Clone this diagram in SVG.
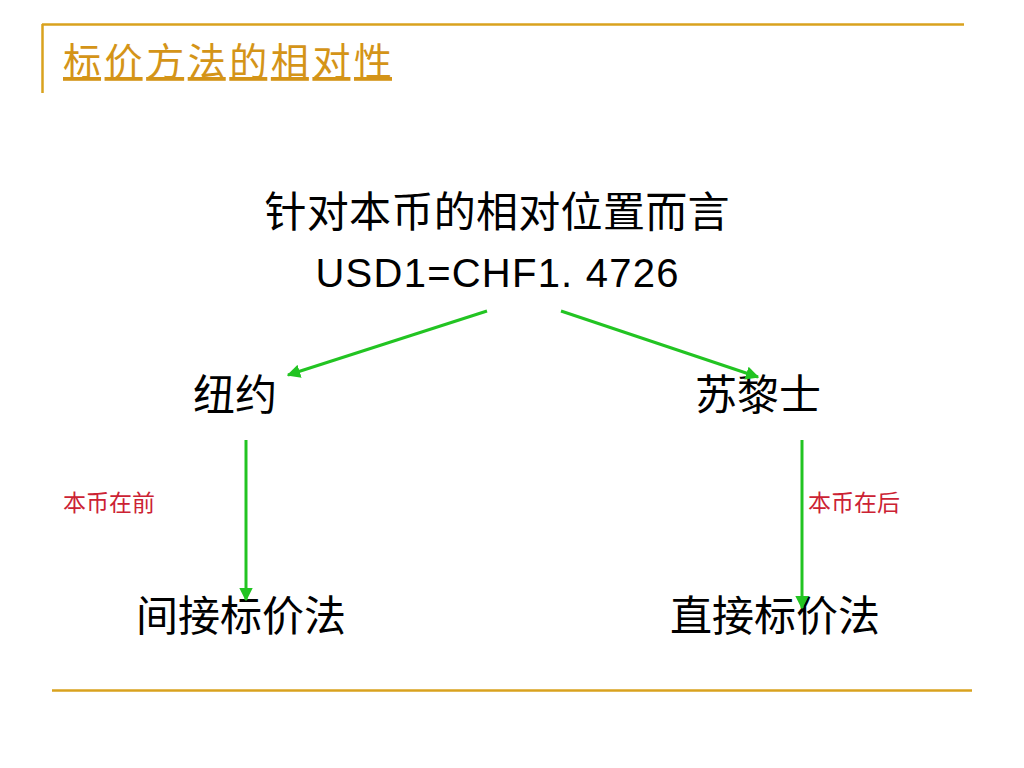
<svg xmlns="http://www.w3.org/2000/svg" width="1024" height="768" viewBox="0 0 1024 768">
<style>
.gold{stroke:#D9A21E;stroke-width:2.5;fill:none}
.title{font-family:"Noto Sans CJK SC","Liberation Sans",sans-serif;font-size:38px;fill:#D49418;text-decoration:underline}
.cjk{font-family:"Noto Sans CJK SC",sans-serif;font-size:42px;fill:#000}
.num{font-family:"Liberation Sans",Arial,sans-serif;font-size:40px;fill:#000}
.note{font-family:"Noto Sans CJK SC",sans-serif;font-size:23px;fill:#CC2233}
.arr{stroke:#22C422;stroke-width:3;fill:none;marker-end:url(#ah)}
</style>
<defs>
<marker id="ah" viewBox="0 0 10 10" refX="9" refY="5" markerWidth="4.5" markerHeight="4.5" orient="auto" markerUnits="strokeWidth">
<path d="M0,0 L10,5 L0,10 z" fill="#22C422"/>
</marker>
</defs>
<rect width="1024" height="768" fill="#fff"/>
<g id="frame">
<line class="gold" x1="42" y1="24.5" x2="964" y2="24.5"/>
<line class="gold" x1="42.5" y1="24" x2="42.5" y2="93"/>
<line class="gold" x1="52" y1="690.5" x2="972" y2="690.5"/>
</g>
<g id="title"><text class="title" x="63" y="75" textLength="329">标价方法的相对性</text></g>
<g id="top">
<text class="cjk" x="497" y="227" text-anchor="middle" textLength="465">针对本币的相对位置而言</text>
<text class="num" x="497" y="287" text-anchor="middle" textLength="363">USD1=CHF1. 4726</text>
</g>
<g id="newyork"><text class="cjk" x="235" y="410" text-anchor="middle">纽约</text></g>
<g id="zurich"><text class="cjk" x="758" y="410" text-anchor="middle">苏黎士</text></g>
<g id="indirect"><text class="cjk" x="241" y="631" text-anchor="middle">间接标价法</text></g>
<g id="direct"><text class="cjk" x="775" y="631" text-anchor="middle">直接标价法</text></g>
<g id="labels">
<text class="note" x="63" y="511">本币在前</text>
<text class="note" x="808" y="511">本币在后</text>
</g>
<g id="connectors">
<line class="arr" x1="487" y1="311" x2="288" y2="375"/>
<line class="arr" x1="561" y1="311" x2="758" y2="377"/>
<line class="arr" x1="246" y1="440" x2="246" y2="600"/>
<line class="arr" x1="802" y1="440" x2="802" y2="608"/>
</g>
</svg>
